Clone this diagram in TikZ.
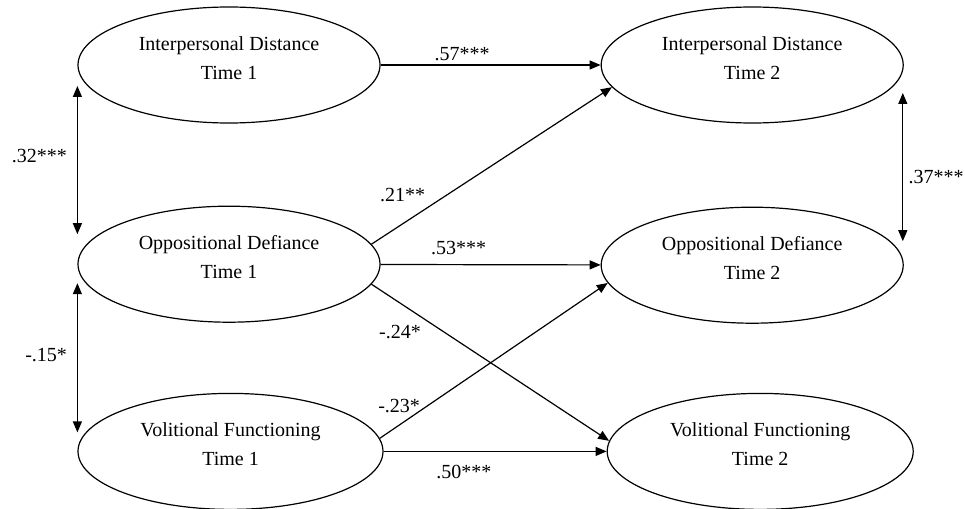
\documentclass[tikz,border=0pt]{standalone}
\usepackage{fontspec}
\setmainfont{Liberation Serif}
\usetikzlibrary{shapes.geometric,positioning,arrows.meta}

\begin{document}
\begin{tikzpicture}[x=1pt, y=1pt, line width=1.2pt, >={Triangle[length=11pt,width=9pt]},
        font=\fontsize{20}{29}\selectfont,
        main/.style = {draw, ellipse, align=center, minimum width=302pt, minimum height=116pt, inner sep=0pt, text depth=14pt}]
        \useasboundingbox (0,0) rectangle (965,-508);
        % time 1
        \node[main] (1) at (229,-65) {Interpersonal Distance\\Time 1};
        \node[main] (2) [below=82pt of 1] {Oppositional Defiance\\Time 1};
        \node[main, minimum width=305pt] (3) [below=70pt of 2, xshift=1.5pt] {Volitional Functioning\\Time 1};
        % time 2
        \node[main] (4) [right=220pt of 1] {Interpersonal Distance\\Time 2};
        \node[main] (5) [below=83pt of 4] {Oppositional Defiance\\Time 2};
        \node[main, minimum width=306pt] (6) [below=69pt of 5, xshift=8pt] {Volitional Functioning\\Time 2};
        % paths
        \draw[->] (1) -- node[pos=0.37, above] {.57***} (4);
        \draw[->] (2.8) -- node[pos=0.13, above=18pt] {.21**} (4.189);
        \draw[->] (2) -- node[pos=0.355, above=5.5pt] {.53***} (5);
        \draw[->] (2.352) -- node[pos=0.12, below=18pt] {-.24*} (6.176);
        \draw[->] (3.5) -- node[pos=0.085, above=8.5pt] {-.23*} (5.187);
        \draw[->] (3) -- node[pos=0.36, below=9.5pt] {.50***} (6);
        % correlations
        \draw[<->] ([yshift=-21pt]1.west) -- node[pos=0.47, left=6.5pt] {.32***} ([yshift=30pt]2.west);
        \draw[<->] ([yshift=-19pt]2.west) -- node[pos=0.48, left=6.5pt] {-.15*} ([yshift=19pt]3.west);
        \draw[<->] ([xshift=-1pt, yshift=-28pt]4.east) -- node[pos=0.57, right=2pt] {.37***} ([xshift=-1pt, yshift=24pt]5.east);
    \end{tikzpicture}
\end{document}
